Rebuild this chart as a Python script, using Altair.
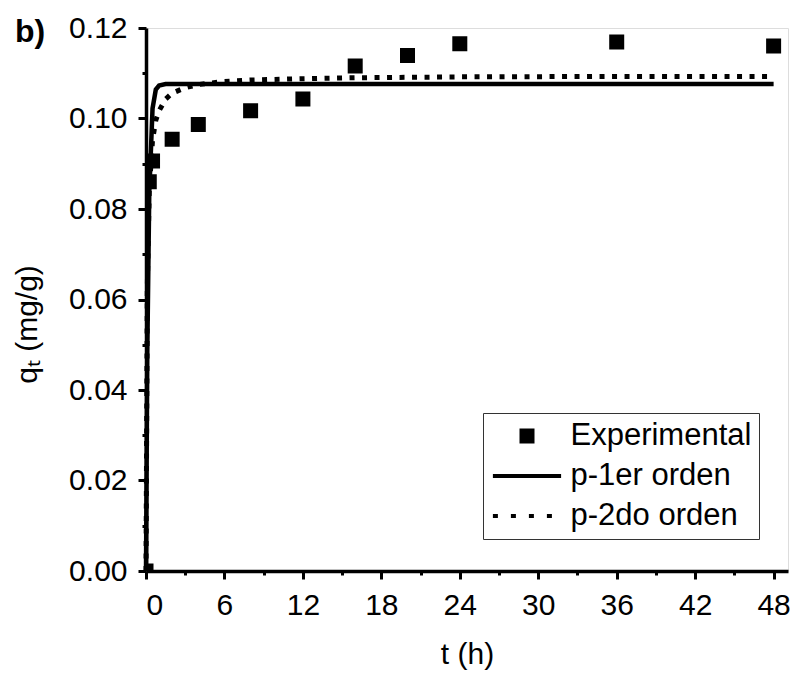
import altair as alt
import pandas as pd

# ---- data ----
series = ["Experimental", "p-1er orden", "p-2do orden"]

t_exp = [0, 0.25, 0.5, 2, 4, 8, 12, 16, 20, 24, 36, 48]
q_exp = [0.0, 0.0860, 0.0906, 0.0954, 0.0987, 0.1017, 0.1043,
         0.1116, 0.1139, 0.1165, 0.1169, 0.1160]

t_fit = [0, 0.1, 0.25, 0.5, 0.75, 1, 1.5, 2, 3, 4, 6, 8, 12, 16, 20, 24, 36, 48]
q_p1 = [0.0, 0.0486, 0.0836, 0.1022, 0.1064, 0.1073, 0.1076, 0.1076, 0.1076,
        0.1076, 0.1076, 0.1076, 0.1076, 0.1076, 0.1076, 0.1076, 0.1076, 0.1076]
q_p2 = [0.0, 0.0627, 0.0843, 0.0953, 0.0996, 0.1017, 0.1043, 0.1056, 0.1068,
        0.1075, 0.1082, 0.1085, 0.1088, 0.1090, 0.1091, 0.1092, 0.1093, 0.1093]

x_ticks = list(range(0, 49, 3))
y_ticks = [round(i * 0.01, 2) for i in range(0, 13)]

panel_label = ["b)"]

FONT = "Liberation Sans"

exp_df = pd.DataFrame({"t": t_exp, "q": q_exp, "series": series[0]})
p1_df = pd.DataFrame({"t": t_fit, "q": q_p1})
p2_df = pd.DataFrame({"t": t_fit, "q": q_p2})
lab_df = pd.DataFrame({"label": panel_label})

x_scale = alt.Scale(domain=[0, 49.1], nice=False, zero=False)
y_scale = alt.Scale(domain=[0, 0.12], nice=False)

common_axis = dict(
    grid=False, domainColor="black", domainWidth=3.5, tickColor="black",
    tickWidth=3, labelFont=FONT, labelFontSize=30, labelColor="black",
    titleFont=FONT, titleFontSize=30, titleColor="black",
    titleFontWeight="normal", labelPadding=11,
)

x_axis = alt.Axis(
    values=x_ticks, title="t (h)",
    labelExpr="datum.value % 6 == 0 ? datum.label : ''",
    tickSize={"condition": {"test": "datum.value % 6 == 0", "value": 8}, "value": 4},
    titleBaseline="alphabetic", titleY=92,
    **common_axis,
)
y_axis = alt.Axis(
    values=y_ticks, title="qₜ (mg/g)",
    labelExpr="round(datum.value*100) % 2 == 0 ? format(datum.value, '.2f') : ''",
    tickSize={"condition": {"test": "round(datum.value*100) % 2 == 0", "value": 8}, "value": 4},
    titleBaseline="alphabetic", titleX=-110, titleY=296, titleAngle=-90,
    **common_axis,
)

def make_legend():
    return alt.Legend(
        title=None, orient="none", legendX=337, legendY=385,
        labelFont=FONT, labelFontSize=31, labelColor="black", labelLimit=400,
        padding=7.5, rowPadding=8, symbolOffset=21, labelOffset=28,
        strokeColor="#333333", symbolSize=121, symbolStrokeWidth=4,
        symbolStrokeColor="black", symbolFillColor="black", symbolOpacity=1,
    )

line_p2 = alt.Chart(p2_df).mark_line(
    color="black", strokeWidth=5, strokeDash=[5, 7.5], strokeCap="butt"
).encode(
    x=alt.X("t:Q", scale=x_scale, axis=x_axis),
    y=alt.Y("q:Q", scale=y_scale, axis=y_axis),
)

line_p1 = alt.Chart(p1_df).mark_line(
    color="black", strokeWidth=4.5
).encode(
    x=alt.X("t:Q", scale=x_scale),
    y=alt.Y("q:Q", scale=y_scale),
)

points = alt.Chart(exp_df).mark_point(
    fill="black", strokeWidth=4, strokeJoin="miter", size=121,
    opacity=1, fillOpacity=1, strokeOpacity=1, clip=True,
).encode(
    x=alt.X("t:Q", scale=x_scale),
    y=alt.Y("q:Q", scale=y_scale),
    shape=alt.Shape(
        "series:N",
        scale=alt.Scale(domain=series,
                        range=["square", "M-6.2,0H6.2", "M-6.2,0H6.2"]),
        legend=make_legend(),
    ),
    strokeDash=alt.StrokeDash(
        "series:N",
        scale=alt.Scale(domain=series, range=[[], [], [5, 13]]),
        legend=make_legend(),
    ),
    stroke=alt.Stroke(
        "series:N",
        scale=alt.Scale(domain=series, range=["black", "black", "black"]),
        legend=make_legend(),
    ),
)

panel = alt.Chart(lab_df).mark_text(
    font=FONT, fontSize=32, fontWeight="bold", color="black",
    align="left", baseline="alphabetic",
).encode(
    text="label:N",
    x=alt.value(-131),
    y=alt.value(14),
)

chart = alt.layer(line_p2, line_p1, points, panel).properties(
    width=642, height=543,
    autosize=alt.AutoSizeParams(type="none"),
    padding={"left": 146, "top": 28, "right": 8, "bottom": 106},
).configure_view(stroke=None).configure(background="white")

chart.save("out.html", embed_options={"renderer": "svg", "actions": False})
